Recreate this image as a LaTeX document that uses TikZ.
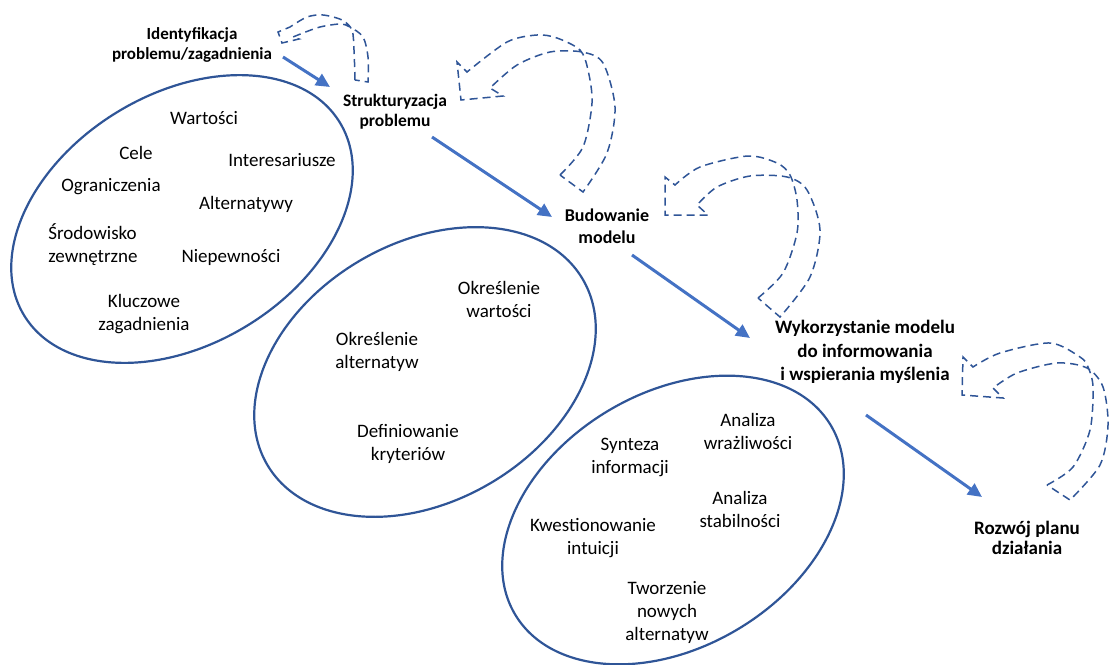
\documentclass[tikz,border=0pt]{standalone}
\usepackage{fontspec}
\setmainfont{Carlito}
\usetikzlibrary{arrows.meta}

\definecolor{ringblue}{RGB}{47,85,151}
\definecolor{flowblue}{RGB}{68,114,196}

\begin{document}
\begin{tikzpicture}[x=1pt, y=-1pt,
  item/.style={align=center, inner sep=0pt, font=\fontsize{19}{23}\selectfont},
  stage/.style={align=center, inner sep=0pt, font=\bfseries\fontsize{18}{22}\selectfont},
  ring/.style={draw=ringblue, line width=2.2pt},
  flow/.style={draw=flowblue, line width=3pt, -{Triangle[length=14pt,width=13pt]}},
  loopback/.style={draw=ringblue, line width=1.5pt, dash pattern=on 8pt off 5pt, line join=miter}
]
\useasboundingbox (0,0) rectangle (1110,664);

% three ellipses
\draw[ring, rotate around={31.5:(182,219)}] (182,219) ellipse [x radius=185, y radius=125];
\draw[ring, rotate around={30.5:(425,372)}] (425,372) ellipse [x radius=183, y radius=129];
\draw[ring, rotate around={31:(673,520)}] (673,520) ellipse [x radius=184, y radius=127];

% stages
\node[stage, font=\bfseries\fontsize{17}{20}\selectfont] (ident) at (192,45) {Identyfikacja\\problemu/zagadnienia};
\node[stage, font=\bfseries\fontsize{17.5}{20}\selectfont] (struct) at (395,112) {Strukturyzacja\\problemu};
\node[stage] (build) at (607,226) {Budowanie\\modelu};
\node[stage, font=\bfseries\fontsize{19}{23.5}\selectfont] (use) at (865,352) {Wykorzystanie modelu\\do informowania\\i wspierania myślenia};
\node[stage, font=\bfseries\fontsize{19}{20}\selectfont] (plan) at (1027,538) {Rozwój planu\\działania};

% first ellipse
\node[item] (values) at (204,118) {Wartości};
\node[item] (goals) at (136,153) {Cele};
\node[item] (stake) at (282,160) {Interesariusze};
\node[item] (limits) at (111,187) {Ograniczenia};
\node[item] (alts) at (246,204) {Alternatywy};
\node[item, align=left] (env) at (93,245) {Środowisko\\zewnętrzne};
\node[item] (uncert) at (231,257) {Niepewności};
\node[item] (issues) at (144,314) {Kluczowe\\zagadnienia};

% second ellipse
\node[item] (defval) at (499,299) {Określenie\\wartości};
\node[item] (defalt) at (377,352) {Określenie\\alternatyw};
\node[item] (crit) at (408,444) {Definiowanie\\kryteriów};

% third ellipse
\node[item] (sens) at (748,431) {Analiza\\wrażliwości};
\node[item] (synth) at (630,457) {Synteza\\informacji};
\node[item] (robust) at (740,509) {Analiza\\stabilności};
\node[item] (intuit) at (593,538) {Kwestionowanie\\intuicji};
\node[item] (newalt) at (667,612) {Tworzenie\\nowych\\alternatyw};

% forward arrows
\coordinate (f1a) at (283,57);  \coordinate (f1b) at (330,87);
\coordinate (f2a) at (432,137); \coordinate (f2b) at (552,217);
\coordinate (f3a) at (632,255); \coordinate (f3b) at (750,338);
\coordinate (f4a) at (866,415); \coordinate (f4b) at (982,497);
\draw[flow] (f1a) -- (f1b);
\draw[flow] (f2a) -- (f2b);
\draw[flow] (f3a) -- (f3b);
\draw[flow] (f4a) -- (f4b);

% dashed loop-back arrows
\draw[loopback] plot[smooth] coordinates {(355,80) (354,50) (352,30) (342,20) (323,15) (307,17) (290,27)}
  -- (278,32) -- (282,43) -- (299,39)
  -- plot[smooth] coordinates {(293,37) (303,33) (320,27) (340,24) (350,27) (363,37) (368,57) (368,82)} -- cycle;
\draw[loopback] plot[smooth] coordinates {(560,175) (583,147) (592,103) (588,70) (580,50) (557,38) (537,35) (507,42) (467,72)}
  -- (457,62) -- (461,100) -- (503,96)
  -- plot[smooth] coordinates {(490,88) (517,65) (550,52) (582,52) (603,63) (615,107) (607,153) (583,192)} -- cycle;
\draw[loopback] plot[smooth] coordinates {(758,298) (783,273) (797,233) (797,200) (790,175) (777,163) (748,156) (700,167) (675,185)}
  -- (665,177) -- (665,215) -- (708,215)
  -- plot[smooth] coordinates {(697,205) (717,187) (750,176) (787,177) (807,190) (820,230) (810,277) (780,317)} -- cycle;
\draw[loopback] plot[smooth] coordinates {(1047,485) (1073,467) (1090,430) (1093,387) (1088,367) (1080,357) (1050,343) (1000,353) (973,367)}
  -- (963,357) -- (962,395) -- (1003,398)
  -- plot[smooth] coordinates {(993,388) (1017,373) (1057,363) (1087,368) (1103,387) (1108,425) (1100,465) (1070,500)} -- cycle;
\end{tikzpicture}
\end{document}
